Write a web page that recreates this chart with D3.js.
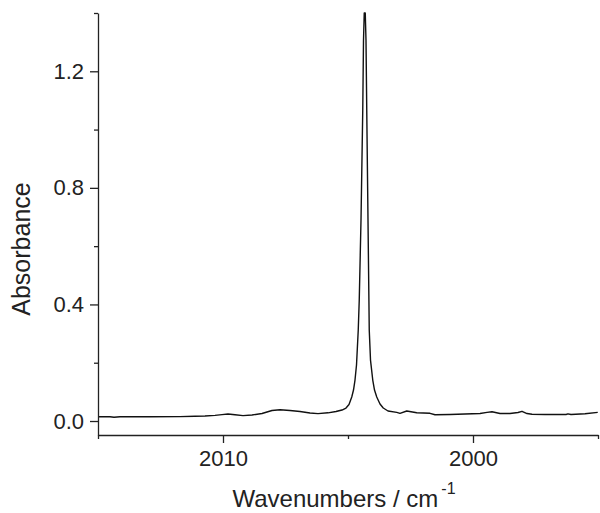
<!DOCTYPE html>
<html>
<head>
<meta charset="utf-8">
<script src="https://cdn.jsdelivr.net/npm/d3@7"></script>
<style>
  body { margin: 0; background: #fff; }
</style>
</head>
<body>
<div id="vis"></div>
<script>
// IR spectrum (wavenumber in cm-1, absorbance)
const wavenumbers = [
  2015.00, 2014.52, 2014.36, 2014.12, 2012.92, 2011.72, 2011.12, 2010.72, 2010.32, 2010.04,
  2009.80, 2009.52, 2009.20, 2008.84, 2008.44, 2008.04, 2007.72, 2007.32, 2006.92, 2006.52,
  2006.20, 2005.80, 2005.48, 2005.24, 2005.08, 2004.96, 2004.85, 2004.78, 2004.72, 2004.66,
  2004.59, 2004.55, 2004.48, 2004.41, 2004.38, 2004.35, 2004.31, 2004.28, 2004.25, 2004.20,
  2004.15, 2004.10, 2004.01, 2003.94, 2003.85, 2003.72, 2003.59, 2003.40, 2003.05, 2002.92,
  2002.65, 2002.25, 2001.72, 2001.52, 2000.92, 1999.72, 1999.44, 1999.24, 1998.92, 1998.52,
  1998.20, 1998.04, 1997.84, 1997.64, 1997.12, 1996.28, 1996.20, 1996.08, 1995.52, 1995.01
];
const absorbance = [
  0.0144, 0.0144, 0.0127, 0.0144, 0.0144, 0.0151, 0.0161, 0.0171, 0.0195, 0.0219,
  0.0240, 0.0213, 0.0185, 0.0206, 0.0257, 0.0360, 0.0384, 0.0360, 0.0326, 0.0274,
  0.0254, 0.0281, 0.0326, 0.0377, 0.0446, 0.0566, 0.0823, 0.1063, 0.1406, 0.1920,
  0.3120, 0.4149, 0.6891, 1.0663, 1.3063, 1.4000, 1.4000, 1.3063, 1.0663, 0.6891,
  0.3120, 0.2091, 0.1406, 0.1063, 0.0823, 0.0583, 0.0446, 0.0343, 0.0298, 0.0264,
  0.0343, 0.0285, 0.0264, 0.0216, 0.0223, 0.0257, 0.0298, 0.0319, 0.0257, 0.0257,
  0.0291, 0.0333, 0.0257, 0.0230, 0.0223, 0.0223, 0.0247, 0.0223, 0.0247, 0.0298
];

const xMajor = [2010, 2000];
const xMinor = [2015, 2005, 1995];
const yMajor = [0.0, 0.4, 0.8, 1.2];
const yMinor = [0.2, 0.6, 1.0, 1.4];

const width = 600;
const height = 513;
const margin = { top: 13, right: 2, bottom: 78, left: 98 };
const font = 'Arial, "Liberation Sans", Helvetica, sans-serif';
const axisColor = '#222';

const spectrum = wavenumbers.map((w, i) => ({ w, a: absorbance[i] }));

const x = d3.scaleLinear()
    .domain([2015, 1995])
    .range([margin.left, width - margin.right]);

const y = d3.scaleLinear()
    .domain([-0.048, 1.4])
    .range([height - margin.bottom, margin.top]);

const svg = d3.select('#vis')
    .append('svg')
    .attr('width', width)
    .attr('height', height);

// spectrum line
svg.append('path')
    .datum(spectrum)
    .attr('fill', 'none')
    .attr('stroke', '#111')
    .attr('stroke-width', 1.4)
    .attr('stroke-linejoin', 'round')
    .attr('d', d3.line().x(d => x(d.w)).y(d => y(d.a)));

// x axis
svg.append('g')
    .attr('transform', `translate(0, ${height - margin.bottom})`)
    .call(d3.axisBottom(x).tickValues(xMajor).tickSize(8).tickSizeOuter(0)
        .tickPadding(7).tickFormat(d3.format('d')));

svg.append('g')
    .attr('transform', `translate(0, ${height - margin.bottom})`)
    .call(d3.axisBottom(x).tickValues(xMinor).tickSize(4).tickFormat(''))
    .call(g => g.select('.domain').remove());

// y axis
svg.append('g')
    .attr('transform', `translate(${margin.left}, 0)`)
    .call(d3.axisLeft(y).tickValues(yMajor).tickSize(8).tickSizeOuter(0)
        .tickPadding(6).tickFormat(d3.format('.1f')));

svg.append('g')
    .attr('transform', `translate(${margin.left}, 0)`)
    .call(d3.axisLeft(y).tickValues(yMinor).tickSize(4).tickFormat(''))
    .call(g => g.select('.domain').remove());

svg.selectAll('.domain, .tick line')
    .attr('stroke', axisColor)
    .attr('stroke-width', 1.3);

svg.selectAll('.tick text')
    .attr('font-family', font)
    .attr('font-size', '22px')
    .attr('fill', '#222');

// axis titles
const xTitle = svg.append('text')
    .attr('x', 344)
    .attr('y', 507)
    .attr('text-anchor', 'middle')
    .attr('font-family', font)
    .attr('font-size', '24px')
    .attr('fill', '#222');

xTitle.append('tspan').text('Wavenumbers / cm');
xTitle.append('tspan')
    .attr('font-size', '16px')
    .attr('dx', 3)
    .attr('dy', -13)
    .text('-1');

svg.append('text')
    .attr('transform', `translate(30, 249) rotate(-90)`)
    .attr('text-anchor', 'middle')
    .attr('font-family', font)
    .attr('font-size', '25px')
    .attr('fill', '#222')
    .text('Absorbance');
</script>
</body>
</html>
